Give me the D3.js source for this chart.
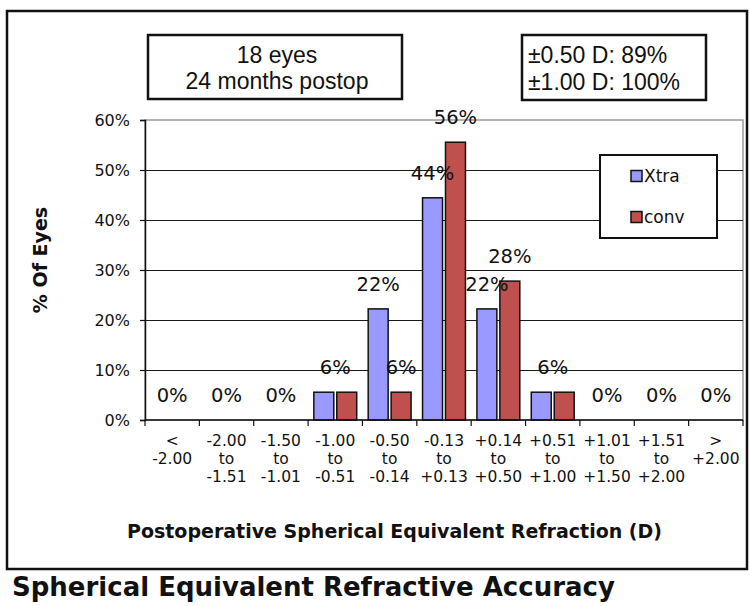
<!DOCTYPE html>
<html>
<head>
<meta charset="utf-8">
<script src="https://cdn.jsdelivr.net/npm/d3@7"></script>
<style>
  html, body { margin: 0; padding: 0; background: #fff; }
  svg { display: block; }
</style>
</head>
<body>
<svg id="chart" width="750" height="606"></svg>
<script>
// ---- data ----
const categories = [
  ["<", "-2.00"],
  ["-2.00", "to", "-1.51"],
  ["-1.50", "to", "-1.01"],
  ["-1.00", "to", "-0.51"],
  ["-0.50", "to", "-0.14"],
  ["-0.13", "to", "+0.13"],
  ["+0.14", "to", "+0.50"],
  ["+0.51", "to", "+1.00"],
  ["+1.01", "to", "+1.50"],
  ["+1.51", "to", "+2.00"],
  [">", "+2.00"]
];
const seriesNames = ["Xtra", "conv"];
const seriesColors = ["#9999ff", "#c0504d"];
const xtraValues = [0, 0, 0, 5.56, 22.22, 44.44, 22.22, 5.56, 0, 0, 0];
const convValues = [0, 0, 0, 5.56, 5.56, 55.56, 27.78, 5.56, 0, 0, 0];
const yTicks = [0, 10, 20, 30, 40, 50, 60];
// value labels: series null = single label centred on the category
const labelCats   = [0, 1, 2, 3, 4, 4, 5, 5, 6, 6, 7, 8, 9, 10];
const labelSeries = [null, null, null, null, "Xtra", "conv", "Xtra", "conv", "Xtra", "conv", null, null, null, null];
const labelTexts  = ["0%", "0%", "0%", "6%", "22%", "6%", "44%", "56%", "22%", "28%", "6%", "0%", "0%", "0%"];
const infoLeft  = ["18 eyes", "24 months postop"];
const infoRight = ["±0.50 D: 89%", "±1.00 D: 100%"];
const xTitle = "Postoperative Spherical Equivalent Refraction (D)";
const yTitle = "% Of Eyes";
const mainTitle = "Spherical Equivalent Refractive Accuracy";

// ---- drawing ----
const svg = d3.select("#chart");
const VER = "'DejaVu Sans', Verdana, sans-serif";
const ARI = "'Liberation Sans', Arial, sans-serif";

// outer frame
svg.append("rect").attr("x", 7).attr("y", 11).attr("width", 740).attr("height", 558)
  .attr("fill", "none").attr("stroke", "#111").attr("stroke-width", 2.5);

const plot = { left: 145, right: 743, top: 120, bottom: 420 };
const x = d3.scaleBand().domain(d3.range(categories.length)).range([plot.left, plot.right]).padding(0);
const x1 = d3.scaleBand().domain(seriesNames).range([0, x.bandwidth()]).paddingInner(0.13).paddingOuter(0.25);
const y = d3.scaleLinear().domain([0, 60]).range([plot.bottom, plot.top]);

// plot area border (gray top/right)
svg.append("rect").attr("x", plot.left).attr("y", plot.top)
  .attr("width", plot.right - plot.left).attr("height", plot.bottom - plot.top)
  .attr("fill", "none").attr("stroke", "#9a9a9a").attr("stroke-width", 1.5);

// gridlines
svg.append("g").selectAll("line").data(yTicks.filter(d => d > 0 && d < 60)).join("line")
  .attr("x1", plot.left).attr("x2", plot.right)
  .attr("y1", d => y(d) + 0.5).attr("y2", d => y(d) + 0.5)
  .attr("stroke", "#1a1a1a").attr("stroke-width", 1);

// y axis
const yAxis = svg.append("g").attr("transform", `translate(${plot.left},0)`)
  .call(d3.axisLeft(y).tickValues(yTicks).tickFormat(d => d + "%").tickSize(5).tickPadding(10));
yAxis.select(".domain").attr("stroke", "#111").attr("stroke-width", 1.5);
yAxis.selectAll(".tick line").attr("stroke", "#111").attr("stroke-width", 1.2);
yAxis.selectAll(".tick text").attr("font-family", VER).attr("font-size", 16).attr("fill", "#111");

// bars
const values = [xtraValues, convValues];
const barData = [];
values.forEach((vals, si) => vals.forEach((v, ci) => { if (v > 0) barData.push({ ci, si, v }); }));
svg.append("g").selectAll("rect").data(barData).join("rect")
  .attr("x", d => x(d.ci) + x1(seriesNames[d.si]))
  .attr("width", x1.bandwidth())
  .attr("y", d => y(d.v))
  .attr("height", d => y(0) - y(d.v))
  .attr("fill", d => seriesColors[d.si])
  .attr("stroke", "#111").attr("stroke-width", 1.5);

// x axis line and boundary ticks
svg.append("line").attr("x1", plot.left).attr("x2", plot.right)
  .attr("y1", plot.bottom).attr("y2", plot.bottom).attr("stroke", "#111").attr("stroke-width", 1.5);
const bounds = d3.range(categories.length).map(i => x(i)).concat([x.range()[1]]);
svg.append("g").selectAll("line").data(bounds).join("line")
  .attr("x1", d => d).attr("x2", d => d)
  .attr("y1", plot.bottom).attr("y2", plot.bottom + 6)
  .attr("stroke", "#111").attr("stroke-width", 1.2);

// x category labels (multi-line)
const xl = svg.append("g").attr("font-family", VER).attr("font-size", 15.5).attr("fill", "#111")
  .attr("text-anchor", "middle");
categories.forEach((lines, i) => {
  const t = xl.append("text").attr("x", x(i) + x.bandwidth() / 2).attr("y", 446);
  lines.forEach((ln, k) => t.append("tspan").attr("x", x(i) + x.bandwidth() / 2).attr("y", 446 + k * 18).text(ln));
});

// value labels
svg.append("g").selectAll("text").data(labelTexts.map((t, i) => ({ t, ci: labelCats[i], s: labelSeries[i] })))
  .join("text")
  .attr("x", d => d.s === null ? x(d.ci) + x.bandwidth() / 2 : x(d.ci) + x1(d.s) + x1.bandwidth() / 2)
  .attr("y", d => {
    const v = d.s === null ? Math.max(xtraValues[d.ci], convValues[d.ci])
                           : values[seriesNames.indexOf(d.s)][d.ci];
    return y(v) - 18;
  })
  .attr("text-anchor", "middle").attr("font-family", VER).attr("font-size", 19.5).attr("fill", "#111")
  .text(d => d.t);

// legend
const lg = svg.append("g");
lg.append("rect").attr("x", 600).attr("y", 155).attr("width", 117).attr("height", 83)
  .attr("fill", "#fff").attr("stroke", "#111").attr("stroke-width", 2);
seriesNames.forEach((s, i) => {
  const cy = 176 + i * 41;
  lg.append("rect").attr("x", 631).attr("y", cy - 5.5).attr("width", 11).attr("height", 11)
    .attr("fill", seriesColors[i]).attr("stroke", "#111").attr("stroke-width", 1.5);
  lg.append("text").attr("x", 644).attr("y", cy + 6).attr("font-family", VER).attr("font-size", 17)
    .attr("fill", "#111").text(s);
});

// info boxes
svg.append("rect").attr("x", 148).attr("y", 35).attr("width", 254).attr("height", 64)
  .attr("fill", "#fff").attr("stroke", "#111").attr("stroke-width", 2.5);
infoLeft.forEach((t, i) => svg.append("text").attr("x", 277).attr("y", 63 + i * 25.5)
  .attr("text-anchor", "middle").attr("font-family", ARI).attr("font-size", 23).attr("fill", "#111").text(t));
svg.append("rect").attr("x", 522).attr("y", 35).attr("width", 184).attr("height", 65)
  .attr("fill", "#fff").attr("stroke", "#111").attr("stroke-width", 2.5);
infoRight.forEach((t, i) => svg.append("text").attr("x", 528).attr("y", 63 + i * 26.5)
  .attr("font-family", ARI).attr("font-size", 23).attr("fill", "#111").text(t));

// axis titles
svg.append("text").attr("x", 127).attr("y", 538).attr("font-family", VER).attr("font-weight", "bold")
  .attr("font-size", 19).attr("fill", "#111").text(xTitle);
svg.append("text").attr("transform", "translate(47,260) rotate(-90)").attr("text-anchor", "middle")
  .attr("font-family", VER).attr("font-weight", "bold").attr("font-size", 19).attr("fill", "#111").text(yTitle);

// main title
svg.append("text").attr("x", 12).attr("y", 596).attr("font-family", VER).attr("font-weight", "bold")
  .attr("font-size", 26).attr("fill", "#111").text(mainTitle);
</script>
</body>
</html>
